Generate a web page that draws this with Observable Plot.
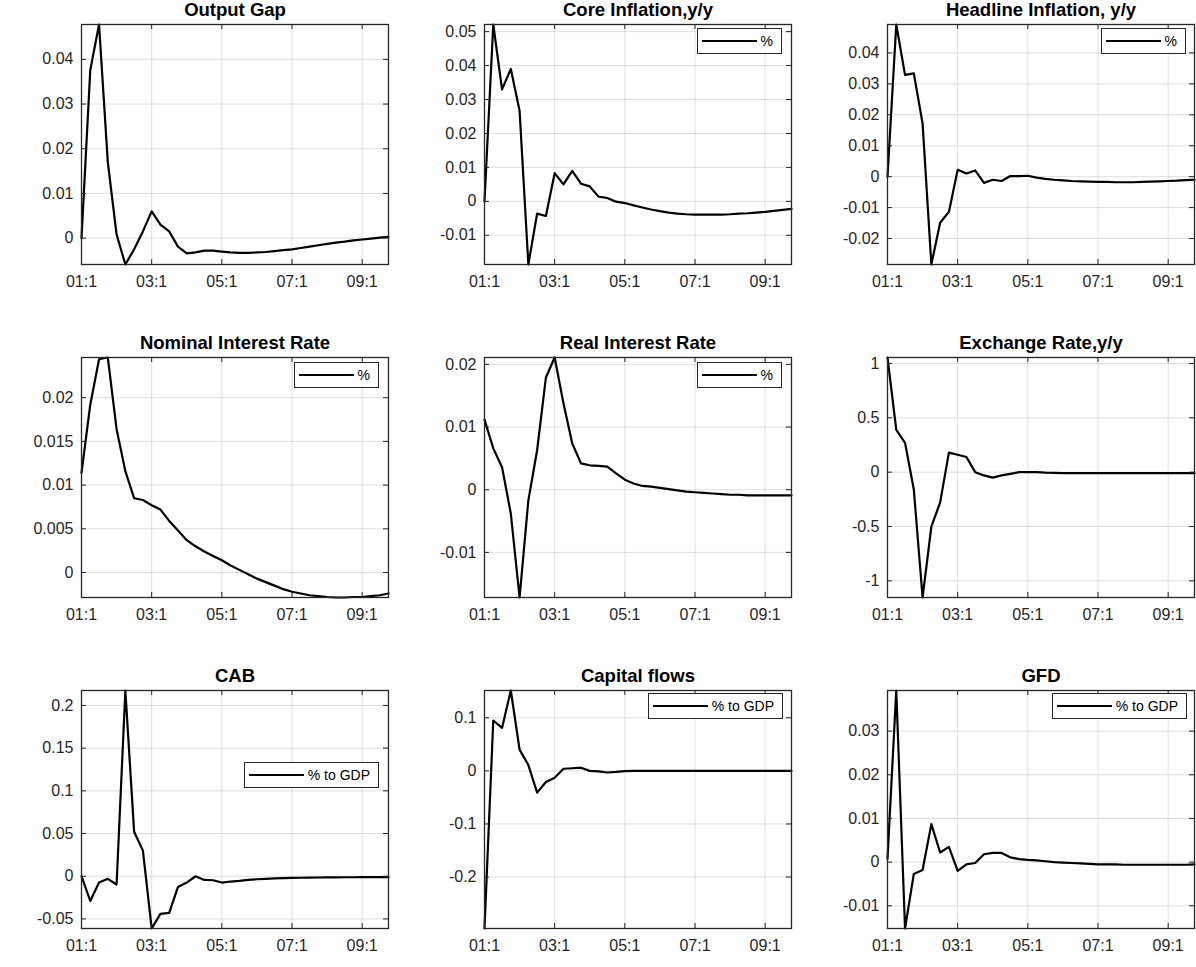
<!DOCTYPE html>
<html>
<head>
<meta charset="utf-8">
<script src="https://cdn.jsdelivr.net/npm/d3@7"></script>
<script src="https://cdn.jsdelivr.net/npm/@observablehq/plot@0.6"></script>
<style>
  body { margin: 0; background: #fff; font-family: "Liberation Sans", Arial, Helvetica, sans-serif; }
  #fig { position: relative; width: 1196px; height: 967px; overflow: hidden; background: #fff; }
  .panel { position: absolute; }
  .panel svg { overflow: visible; }
  .legend { position: absolute; display: flex; align-items: center; height: 24px; border: 1.3px solid #262626;
            background: #fff; padding: 0 8px 0 4px; font-size: 14px; color: #000; white-space: nowrap; }
  .legend .ln { width: 55px; height: 0; border-top: 2.6px solid #000; margin-right: 4px; }
</style>
</head>
<body>
<div id="fig"></div>
<script>
// ---------------- data ----------------
const xTickIdx = [0, 8, 16, 24, 32];
const xTickLabels = ["01:1", "03:1", "05:1", "07:1", "09:1"];

const titles = ["Output Gap", "Core Inflation,y/y", "Headline Inflation, y/y",
                "Nominal Interest Rate", "Real Interest Rate", "Exchange Rate,y/y",
                "CAB", "Capital flows", "GFD"];
const legendLabels = [null, "%", "%", "%", "%", null, "% to GDP", "% to GDP", "% to GDP"];

const outputGap = [0, 0.0376, 0.0478, 0.017, 0.0008, -0.0059, -0.0025, 0.0015, 0.006, 0.003,
  0.0015, -0.0019, -0.0034, -0.0032, -0.0028, -0.0028, -0.003, -0.0032, -0.0033, -0.0033,
  -0.0032, -0.0031, -0.0029, -0.0027, -0.0025, -0.0022, -0.0019, -0.0016, -0.0013, -0.001,
  -0.0008, -0.0005, -0.0003, -0.0001, 0.0001, 0.0003];

const coreInflation = [0, 0.0521, 0.033, 0.039, 0.0267, -0.0186, -0.0036, -0.0043, 0.0083, 0.005,
  0.009, 0.0052, 0.0044, 0.0014, 0.001, -0.0001, -0.0005, -0.0012, -0.0018, -0.0024,
  -0.0029, -0.0033, -0.0036, -0.0038, -0.0039, -0.0039, -0.0039, -0.0039, -0.0038, -0.0036,
  -0.0035, -0.0033, -0.0031, -0.0028, -0.0025, -0.0022];

const headlineInflation = [0, 0.0492, 0.0329, 0.0334, 0.0172, -0.0284, -0.0149, -0.0114, 0.0022, 0.001,
  0.002, -0.002, -0.001, -0.0014, 0.0002, 0.0002, 0.0003, -0.0003, -0.0007, -0.001,
  -0.0012, -0.0014, -0.0015, -0.0016, -0.0017, -0.0017, -0.0018, -0.0018, -0.0018, -0.0017,
  -0.0016, -0.0015, -0.0014, -0.0013, -0.0011, -0.001];

const nominalRate = [0.0114, 0.0192, 0.0244, 0.0246, 0.0164, 0.0116, 0.0085, 0.0083, 0.0077, 0.0072,
  0.0059, 0.0048, 0.0037, 0.003, 0.0024, 0.0019, 0.0014, 0.0008, 0.0003, -0.0002,
  -0.0007, -0.0011, -0.0015, -0.0019, -0.0022, -0.0024, -0.0026, -0.0027, -0.0028, -0.00286,
  -0.00286, -0.0028, -0.0028, -0.0027, -0.0026, -0.0024];

const realRate = [0.0112, 0.0066, 0.0036, -0.0038, -0.0172, -0.0017, 0.0063, 0.0179, 0.0211, 0.0138,
  0.0074, 0.0042, 0.0039, 0.0038, 0.0037, 0.0026, 0.0016, 0.001, 0.0006, 0.0005,
  0.0003, 0.0001, -0.0001, -0.0003, -0.0004, -0.0005, -0.0006, -0.0007, -0.0008, -0.0008,
  -0.0009, -0.0009, -0.0009, -0.0009, -0.0009, -0.0009];

const exchangeRate = [1.055, 0.39, 0.27, -0.16, -1.153, -0.5, -0.28, 0.18, 0.16, 0.14,
  0.0, -0.03, -0.05, -0.03, -0.015, 0.0, 0.0, 0.0, -0.005, -0.007,
  -0.008, -0.008, -0.008, -0.008, -0.008, -0.008, -0.008, -0.008, -0.008, -0.008,
  -0.008, -0.008, -0.008, -0.008, -0.008, -0.008];

const cab = [0, -0.029, -0.0074, -0.003, -0.0097, 0.2175, 0.052, 0.03, -0.0612, -0.044,
  -0.043, -0.0125, -0.0074, 0.0, -0.0043, -0.0047, -0.0074, -0.0062, -0.0055, -0.0043,
  -0.0035, -0.003, -0.0025, -0.0022, -0.002, -0.0018, -0.0016, -0.0015, -0.0014, -0.0013,
  -0.0012, -0.0012, -0.0011, -0.0011, -0.001, -0.001];

const capitalFlows = [-0.297, 0.095, 0.081, 0.1515, 0.04, 0.011, -0.041, -0.021, -0.013, 0.004,
  0.005, 0.006, 0.0, -0.001, -0.003, -0.002, -0.0005, 0, 0, 0,
  0, 0, 0, 0, 0, 0, 0, 0, 0, 0,
  0, 0, 0, 0, 0, 0];

const gfd = [0.0008, 0.0393, -0.0152, -0.0027, -0.0018, 0.0087, 0.0022, 0.0035, -0.002, -0.0005,
  -0.0002, 0.0018, 0.0021, 0.0021, 0.0011, 0.0007, 0.0005, 0.0004, 0.0002, 0.0,
  -0.0001, -0.0002, -0.0003, -0.0004, -0.0005, -0.0005, -0.0005, -0.0006, -0.0006, -0.0006,
  -0.0006, -0.0006, -0.0006, -0.0006, -0.0006, -0.0005];

const yTicksOutputGap = [0, 0.01, 0.02, 0.03, 0.04];
const yTicksCore = [-0.01, 0, 0.01, 0.02, 0.03, 0.04, 0.05];
const yTicksHeadline = [-0.02, -0.01, 0, 0.01, 0.02, 0.03, 0.04];
const yTicksNominal = [0, 0.005, 0.01, 0.015, 0.02];
const yTicksReal = [-0.01, 0, 0.01, 0.02];
const yTicksExchange = [-1, -0.5, 0, 0.5, 1];
const yTicksCab = [-0.05, 0, 0.05, 0.1, 0.15, 0.2];
const yTicksCapital = [-0.2, -0.1, 0, 0.1];
const yTicksGfd = [-0.01, 0, 0.01, 0.02, 0.03];

const seriesList = [outputGap, coreInflation, headlineInflation, nominalRate, realRate,
                    exchangeRate, cab, capitalFlows, gfd];
const yTicksList = [yTicksOutputGap, yTicksCore, yTicksHeadline, yTicksNominal, yTicksReal,
                    yTicksExchange, yTicksCab, yTicksCapital, yTicksGfd];

// ---------------- layout ----------------
const colLeft = [81, 484, 887];
const rowTop = [24, 357, 690];
const rowHeight = [240, 240, 238];
const plotW = 307;
const mL = 70, mR = 2, mT = 40, mB = 40;
const legendTop = [null, 4, 4, 5, 5, null, 72, 3, 3];
const legendRight = [null, 9, 8, 9, 9, null, 9, 8, 7];
const FONT = '"Liberation Sans", Arial, Helvetica, sans-serif';
const AX = "#262626";

const fig = document.getElementById("fig");

seriesList.forEach((series, k) => {
  const r = Math.floor(k / 3), c = k % 3;
  const h = rowHeight[r];
  const yT = yTicksList[k];
  const data = series.map((v, i) => ({t: i, v}));

  const chart = Plot.plot({
    width: mL + plotW + mR,
    height: mT + h + mB,
    marginLeft: mL, marginRight: mR, marginTop: mT, marginBottom: mB,
    x: {domain: [0, series.length - 1], label: null},
    y: {domain: d3.extent(series), label: null},
    style: {fontFamily: FONT, fontSize: "16px", color: AX, background: "transparent", overflow: "visible"},
    marks: [
      Plot.gridX(xTickIdx, {x: d => d, stroke: AX, strokeOpacity: 0.15, strokeWidth: 1}),
      Plot.gridY(yT, {y: d => d, stroke: AX, strokeOpacity: 0.15, strokeWidth: 1}),
      Plot.line(data, {x: "t", y: "v", stroke: "#000", strokeWidth: 2.2, strokeLinejoin: "round"}),
      Plot.frame({stroke: AX, strokeWidth: 1.3}),
      Plot.tickX(xTickIdx, {x: d => d, insetTop: h - 5, stroke: AX}),
      Plot.tickX(xTickIdx, {x: d => d, insetBottom: h - 5, stroke: AX}),
      Plot.tickY(yT, {y: d => d, insetRight: plotW - 5, stroke: AX}),
      Plot.tickY(yT, {y: d => d, insetLeft: plotW - 5, stroke: AX}),
      Plot.axisX(xTickIdx, {tickSize: 0, tickPadding: 11, fontSize: 16, fill: AX,
        tickFormat: d => xTickLabels[xTickIdx.indexOf(d)]}),
      Plot.axisY(yT, {tickSize: 0, tickPadding: 8, fontSize: 16, fill: AX,
        tickFormat: d => String(d)}),
      Plot.text([titles[k]], {text: d => d, frameAnchor: "top", dy: -9, lineAnchor: "bottom",
        fontWeight: "bold", fontSize: 18.5, fill: "#000"})
    ]
  });

  const panel = document.createElement("div");
  panel.className = "panel";
  panel.style.left = (colLeft[c] - mL) + "px";
  panel.style.top = (rowTop[r] - mT) + "px";
  panel.style.width = (mL + plotW + mR) + "px";
  panel.style.height = (mT + h + mB) + "px";
  panel.appendChild(chart);

  if (legendLabels[k]) {
    const lg = document.createElement("div");
    lg.className = "legend";
    lg.style.top = (mT + legendTop[k]) + "px";
    lg.style.right = (mR + legendRight[k]) + "px";
    const ln = document.createElement("div");
    ln.className = "ln";
    const tx = document.createElement("span");
    tx.textContent = legendLabels[k];
    lg.appendChild(ln);
    lg.appendChild(tx);
    panel.appendChild(lg);
  }
  fig.appendChild(panel);
});
</script>
</body>
</html>
